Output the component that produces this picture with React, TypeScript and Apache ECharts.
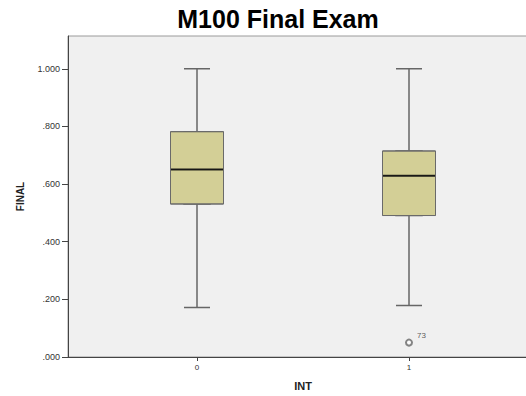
import React, { useEffect, useRef } from "react";
import * as echarts from "echarts";

const categories = [0, 1];
const mins = [0.172, 0.179];
const q1s = [0.531, 0.491];
const medians = [0.651, 0.629];
const q3s = [0.782, 0.715];
const maxs = [1.0, 1.0];
const outliers = [[1, 0.05, "73"]];
const yTicks = [0, 0.2, 0.4, 0.6, 0.8, 1.0];

export default function App() {
  const ref = useRef<HTMLDivElement>(null);
  useEffect(() => {
    if (!ref.current) return;
    const chart = echarts.init(ref.current, null, { renderer: "svg" });
    const font = "Liberation Sans, Arial, sans-serif";
    const xMin = -129 / 212;
    const xMax = 1 + 129 / 212;
    const xAxisBase = {
      type: "value" as const,
      min: xMin,
      max: xMax,
      splitLine: { show: false },
    };
    chart.setOption({
      animation: false,
      title: {
        text: "M100 Final Exam",
        left: 273,
        top: 1,
        textAlign: "center",
        textStyle: { fontSize: 25, fontWeight: "bold", fontFamily: font, color: "#000" },
      },
      grid: {
        left: 68,
        top: 36,
        width: 470,
        height: 323,
        show: true,
        backgroundColor: "#f0f0f0",
        borderColor: "#9a9a9a",
        borderWidth: 1,
      },
      xAxis: [
        {
          ...xAxisBase,
          name: "INT",
          nameLocation: "middle",
          nameGap: 23,
          nameTextStyle: { fontSize: 11, fontWeight: "bold", fontFamily: font, color: "#222" },
          axisLine: { show: true, onZero: false, lineStyle: { color: "#444", width: 1 } },
          axisTick: { show: true, length: 4, customValues: categories, lineStyle: { color: "#444" } },
          axisLabel: {
            customValues: categories,
            fontSize: 8,
            fontFamily: font,
            color: "#333",
            margin: 6,
            formatter: (v: number) => String(Math.round(v)),
          },
        },
        { ...xAxisBase, show: false },
      ],
      yAxis: {
        type: "value",
        min: 0,
        max: 1.114,
        name: "FINAL",
        nameLocation: "middle",
        nameRotate: 90,
        nameGap: 43,
        nameTextStyle: { fontSize: 10, fontWeight: "bold", fontFamily: font, color: "#222" },
        splitLine: { show: false },
        axisLine: { show: true, onZero: false, lineStyle: { color: "#444", width: 1 } },
        axisTick: { show: true, length: 6, customValues: yTicks, lineStyle: { color: "#444" } },
        axisLabel: {
          customValues: yTicks,
          fontSize: 9,
          fontFamily: font,
          color: "#333",
          margin: 8,
          formatter: (v: number) => (v >= 1 ? v.toFixed(3) : v.toFixed(3).replace(/^0/, "")),
        },
      },
      series: [
        {
          type: "boxplot",
          xAxisIndex: 1,
          boxWidth: [26, 26],
          itemStyle: { color: "#d3cf96", borderColor: "#666", borderWidth: 1.5 },
          data: categories.map((c, i) => [c, mins[i], q1s[i], medians[i], q3s[i], maxs[i]]),
        },
        {
          type: "boxplot",
          xAxisIndex: 0,
          boxWidth: [53, 53],
          itemStyle: { color: "#d3cf96", borderColor: "#6a6a6a", borderWidth: 1 },
          data: categories.map((c, i) => [c, q1s[i], q1s[i], medians[i], q3s[i], q3s[i]]),
        },
        {
          type: "scatter",
          xAxisIndex: 0,
          symbol: "rect",
          symbolSize: [52, 2],
          itemStyle: { color: "#000" },
          z: 5,
          data: categories.map((c, i) => [c, medians[i]]),
        },
        {
          type: "scatter",
          xAxisIndex: 0,
          symbol: "emptyCircle",
          symbolSize: 6,
          itemStyle: { color: "#666", borderColor: "#666", borderWidth: 0.8 },
          z: 5,
          label: {
            show: true,
            position: "right",
            offset: [-1, -7],
            fontSize: 8,
            fontFamily: font,
            color: "#333",
            formatter: (p: any) => p.value[2],
          },
          data: outliers,
        },
      ],
    });
    return () => chart.dispose();
  }, []);
  return (
    <div
      ref={ref}
      style={{ position: "fixed", left: 0, top: 0, width: 540, height: 396, background: "#fff" }}
    />
  );
}
